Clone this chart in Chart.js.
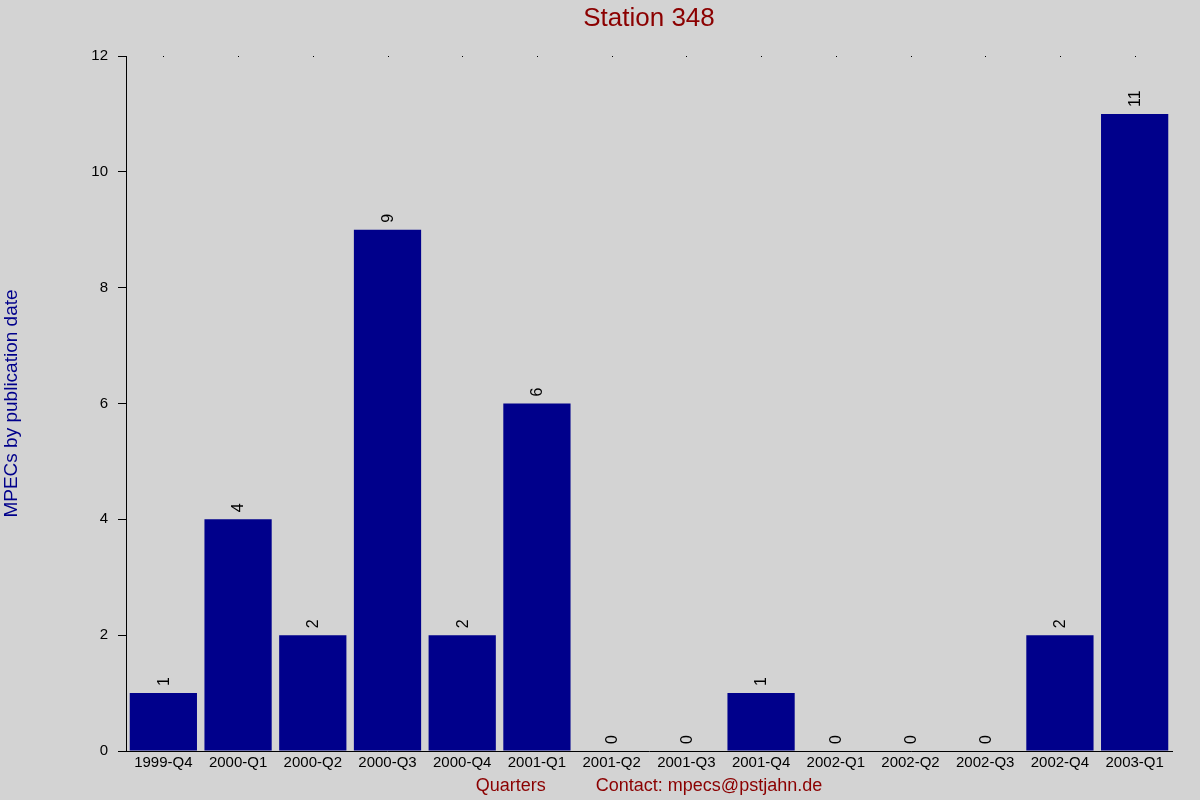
<!DOCTYPE html>
<html>
<head>
<meta charset="utf-8">
<script src="https://cdn.jsdelivr.net/npm/chart.js@4/dist/chart.umd.min.js"></script>
<style>
  html, body { margin: 0; padding: 0; background: #d3d3d3; }
  #wrap { width: 1200px; height: 800px; }
</style>
</head>
<body>
<div id="wrap"><canvas id="chart" width="1200" height="800"></canvas></div>
<script>
const quarters = ['1999-Q4', '2000-Q1', '2000-Q2', '2000-Q3', '2000-Q4', '2001-Q1', '2001-Q2',
                  '2001-Q3', '2001-Q4', '2002-Q1', '2002-Q2', '2002-Q3', '2002-Q4', '2003-Q1'];
const mpecs = [1, 4, 2, 9, 2, 6, 0, 0, 1, 0, 0, 0, 2, 11];

const FONT = "'Liberation Sans', Arial, sans-serif";

// grey page, dots on top edge, rotated value labels
const extras = {
    id: 'extras',
    beforeDraw(chart) {
        const ctx = chart.ctx;
        ctx.save();
        ctx.fillStyle = '#d3d3d3';
        ctx.fillRect(0, 0, chart.width, chart.height);
        ctx.restore();
    },
    afterDatasetsDraw(chart) {
        const ctx = chart.ctx;
        const meta = chart.getDatasetMeta(0);
        ctx.save();
        ctx.fillStyle = '#000';
        ctx.font = '16px ' + FONT;
        ctx.textAlign = 'left';
        ctx.textBaseline = 'middle';
        meta.data.forEach((bar, i) => {
            ctx.save();
            ctx.translate(bar.x + 1, bar.y - 7);
            ctx.rotate(-Math.PI / 2);
            ctx.fillText(String(mpecs[i]), 0, 0);
            ctx.restore();
        });
        const x = chart.scales.x;
        const top = chart.chartArea.top;
        x.ticks.forEach((t, i) => {
            ctx.fillRect(Math.round(x.getPixelForTick(i)), top, 1, 1);
        });
        ctx.restore();
    }
};

new Chart(document.getElementById('chart'), {
    type: 'bar',
    data: {
        labels: quarters,
        datasets: [{
            data: mpecs,
            backgroundColor: '#00008b',
            borderWidth: 0,
            categoryPercentage: 0.9,
            barPercentage: 1.0
        }]
    },
    options: {
        responsive: false,
        devicePixelRatio: 1,
        animation: false,
        layout: { padding: { left: 0, right: 28, top: 0, bottom: 0 } },
        plugins: {
            legend: { display: false },
            tooltip: { enabled: false },
            title: {
                display: true,
                text: 'Station 348',
                color: '#8b0000',
                fullSize: false,
                font: { family: FONT, size: 26, weight: 'normal' },
                padding: { top: 3, bottom: 21.8 }
            }
        },
        scales: {
            x: {
                grid: { drawOnChartArea: false, drawTicks: false },
                border: { display: true, color: '#000', width: 1 },
                ticks: { color: '#000', font: { family: FONT, size: 15 }, padding: 3, maxRotation: 0, autoSkip: false },
                title: {
                    display: true,
                    text: 'Quarters          Contact: mpecs@pstjahn.de',
                    color: '#8b0000',
                    font: { family: FONT, size: 18 },
                    padding: { top: 0, bottom: 3 }
                },
                afterFit(scale) { scale.height = 49; }
            },
            y: {
                min: 0,
                max: 12,
                ticks: { stepSize: 2, color: '#000', font: { family: FONT, size: 15 }, padding: 10 },
                grid: { drawOnChartArea: false, drawTicks: true, tickLength: 8, color: '#000' },
                border: { display: true, color: '#000', width: 1 },
                title: {
                    display: true,
                    text: 'MPECs by publication date',
                    color: '#00008b',
                    font: { family: FONT, size: 19 },
                    padding: { top: 0, bottom: 0 }
                },
                afterFit(scale) { scale.width = 126; }
            }
        }
    },
    plugins: [extras]
});
</script>
</body>
</html>
